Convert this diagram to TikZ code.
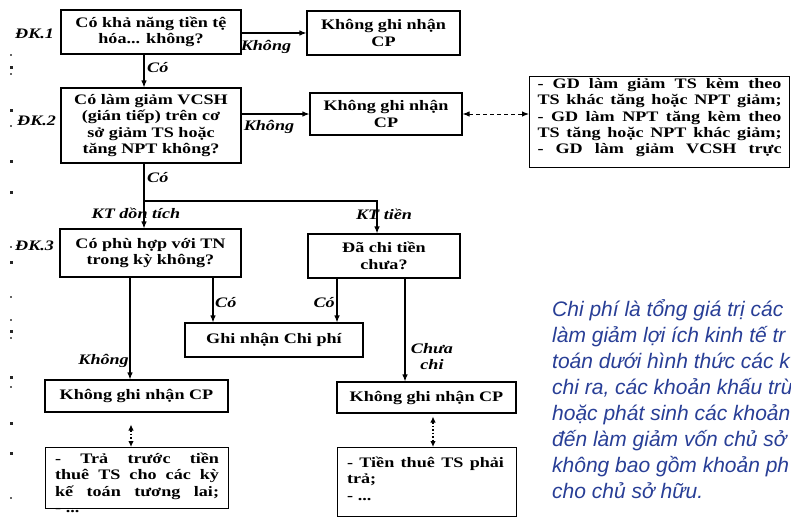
\documentclass[tikz,border=0pt]{standalone}
\usepackage{fontspec}
\setmainfont{Liberation Serif}[FakeStretch=1.25]
\newfontfamily\notefont{Liberation Sans}
\usetikzlibrary{arrows.meta}
\definecolor{noteblue}{RGB}{40,62,150}
% a list line of fixed height and depth
\newcommand{\fixln}[1]{\raisebox{0pt}[11pt][4pt]{#1}}
% the same, spread to a given width (stretchable interword spaces)
\newcommand{\jline}[2]{\fixln{\spaceskip=0pt\xspaceskip=0pt\makebox[#1][s]{#2}}}
\begin{document}
\lineskiplimit=-20pt
\begin{tikzpicture}[x=1pt,y=-1pt,
  box/.style={draw, line width=1.1pt, inner sep=0pt, align=center,
    font=\bfseries\fontsize{14.5}{16.5}\selectfont},
  listbox/.style={draw, line width=1.1pt, inner xsep=8pt, align=left,
    font=\bfseries\fontsize{14.5}{16.3}\selectfont},
  lbl/.style={font=\bfseries\itshape\fontsize{14.5}{16}\selectfont, inner sep=0pt},
  arr/.style={line width=1.1pt, -{Latex[length=7pt,width=5.5pt]}},
  conn/.style={line width=1.1pt},
  dasharr/.style={line width=1pt, dash pattern=on 4pt off 3pt,
    {Latex[length=7pt,width=5.5pt]}-{Latex[length=7pt,width=5.5pt]}},
  dotarr/.style={line width=1.1pt, dash pattern=on 1.5pt off 2pt,
    {Latex[length=6pt,width=5.5pt]}-{Latex[length=6pt,width=5.5pt]}},
  speck/.style={fill=black!85, draw=none},
  note/.style={text=noteblue, inner sep=0pt, align=left,
    font=\notefont\itshape\fontsize{21}{26}\selectfont},
]
\useasboundingbox (0,0) rectangle (791,519);
\begin{scope}
\clip (0,0) rectangle (791,519);

% condition labels in the margin
\node[lbl, anchor=west] (dk1) at (15,34) {ĐK.1};
\node[lbl, anchor=west] (dk2) at (17,121) {ĐK.2};
\node[lbl, anchor=west] (dk3) at (15,246) {ĐK.3};

% margin specks
\foreach \y in {67,110,161,192,262,331,377,423,453}
  \fill[speck] (9.5,\y-1.5) rectangle (12.5,\y+1.5);
\foreach \y in {55,74,126,247,297,320,338,387,498}
  \fill[speck, fill=black!60] (9.8,\y-0.9) rectangle (11.6,\y+0.9);

% decision boxes
\node[box, minimum width=180pt, minimum height=44pt] (b1) at (151,32)
  {Có khả năng tiền tệ\\hóa... không?};
\node[box, minimum width=153pt, minimum height=44pt] (n1) at (383.5,33)
  {Không ghi nhận\\CP};
\node[box, minimum width=180pt, minimum height=75pt] (b2) at (151,125.5)
  {Có làm giảm VCSH\\(gián tiếp) trên cơ\\sở giảm TS hoặc\\tăng NPT không?};
\node[box, minimum width=152pt, minimum height=42pt] (n2) at (386,114)
  {Không ghi nhận\\CP};
\node[listbox, inner ysep=1pt, text depth=13pt, anchor=north west] (r) at (529,76)
  {\jline{244pt}{- GD làm giảm TS kèm theo}\\
   \jline{244pt}{TS khác tăng hoặc NPT giảm;}\\
   \jline{244pt}{- GD làm NPT tăng kèm theo}\\
   \jline{244pt}{TS tăng hoặc NPT khác giảm;}\\
   \jline{244pt}{- GD làm giảm VCSH trực}};
\node[box, minimum width=181pt, minimum height=48pt] (b3) at (150.5,253)
  {Có phù hợp với TN\\trong kỳ không?};
\node[box, minimum width=152pt, minimum height=44pt] (b4) at (384,256)
  {Đã chi tiền\\chưa?};
\node[box, minimum width=178pt, minimum height=34pt] (b5) at (274,340)
  {Ghi nhận Chi phí};
\node[box, minimum width=183pt, minimum height=32pt] (b6) at (136.5,396)
  {Không ghi nhận CP};
\node[box, minimum width=179pt, minimum height=31pt] (b8) at (426.5,397.5)
  {Không ghi nhận CP};
\node[listbox, text width=164pt, inner xsep=9.5pt, inner ysep=5pt, text depth=40pt,
  anchor=north west] (b7) at (45,447)
  {\jline{164pt}{- Trả trước tiền}\\
   \jline{164pt}{thuê TS cho các kỳ}\\
   \jline{164pt}{kế toán tương lai;}\\
   \fixln{- ...}};
\node[listbox, text width=160pt, inner xsep=9.5pt, inner ysep=9pt, text depth=40pt,
  anchor=north west] (b9) at (337,447)
  {\jline{157pt}{- Tiền thuê TS phải}\\
   \fixln{trả;}\\
   \fixln{- ...}};

% connector columns and junctions
\coordinate (xa) at (144,0);
\coordinate (j) at (144,201);
\coordinate (jr) at (377,201);
\coordinate (xk) at (130,0);
\coordinate (xc1) at (213,0);
\coordinate (xc2) at (337,0);
\coordinate (xcc) at (405,0);
\coordinate (xd1) at (131,0);
\coordinate (xd2) at (433,0);

% connectors
\draw[arr] (b1.east |- n1.west) -- (n1.west);
\draw[arr] (b1.south -| xa) -- (b2.north -| xa);
\draw[arr] (b2.east |- n2.west) -- (n2.west);
\draw[dasharr] (n2.east) -- (r.west |- n2.east);
\draw[conn] (b2.south -| xa) -- (j);
\draw[arr] (j) -- (b3.north -| j);
\draw[arr] (j) -- (jr) -- (b4.north -| jr);
\draw[arr] (b3.south -| xc1) -- (b5.north -| xc1);
\draw[arr] (b4.south -| xc2) -- (b5.north -| xc2);
\draw[arr] (b3.south -| xk) -- (b6.north -| xk);
\draw[arr] (b4.south -| xcc) -- (b8.north -| xcc);
\draw[dotarr, shorten <=12pt] (b6.south -| xd1) -- (b7.north -| xd1);
\draw[dotarr, shorten <=3pt] (b8.south -| xd2) -- (b9.north -| xd2);

% connector labels
\node[lbl] (l1) at (266,47) {Không};
\node[lbl, anchor=west] (l2) at (147,68) {Có};
\node[lbl] (l3) at (269,127) {Không};
\node[lbl, anchor=west] (l4) at (147,178) {Có};
\node[lbl] (l5) at (136,213) {KT dồn tích};
\node[lbl] (l6) at (384,214) {KT tiền};
\node[lbl, anchor=west] (l7) at (215,303) {Có};
\node[lbl, anchor=east] (l8) at (335,303) {Có};
\node[lbl, anchor=east] (l9) at (129,361) {Không};
\node[lbl, align=center] (l10) at (432,357) {Chưa\\chi};

% definition note
\node[note, anchor=north west] (def) at (552,299)
  {Chi phí là tổng giá trị các\\
   làm giảm lợi ích kinh tế tr\\
   toán dưới hình thức các k\\
   chi ra, các khoản khấu trừ\\
   hoặc phát sinh các khoản\\
   đến làm giảm vốn chủ sở\\
   không bao gồm khoản ph\\
   cho chủ sở hữu.};
\end{scope}
\end{tikzpicture}
\end{document}
